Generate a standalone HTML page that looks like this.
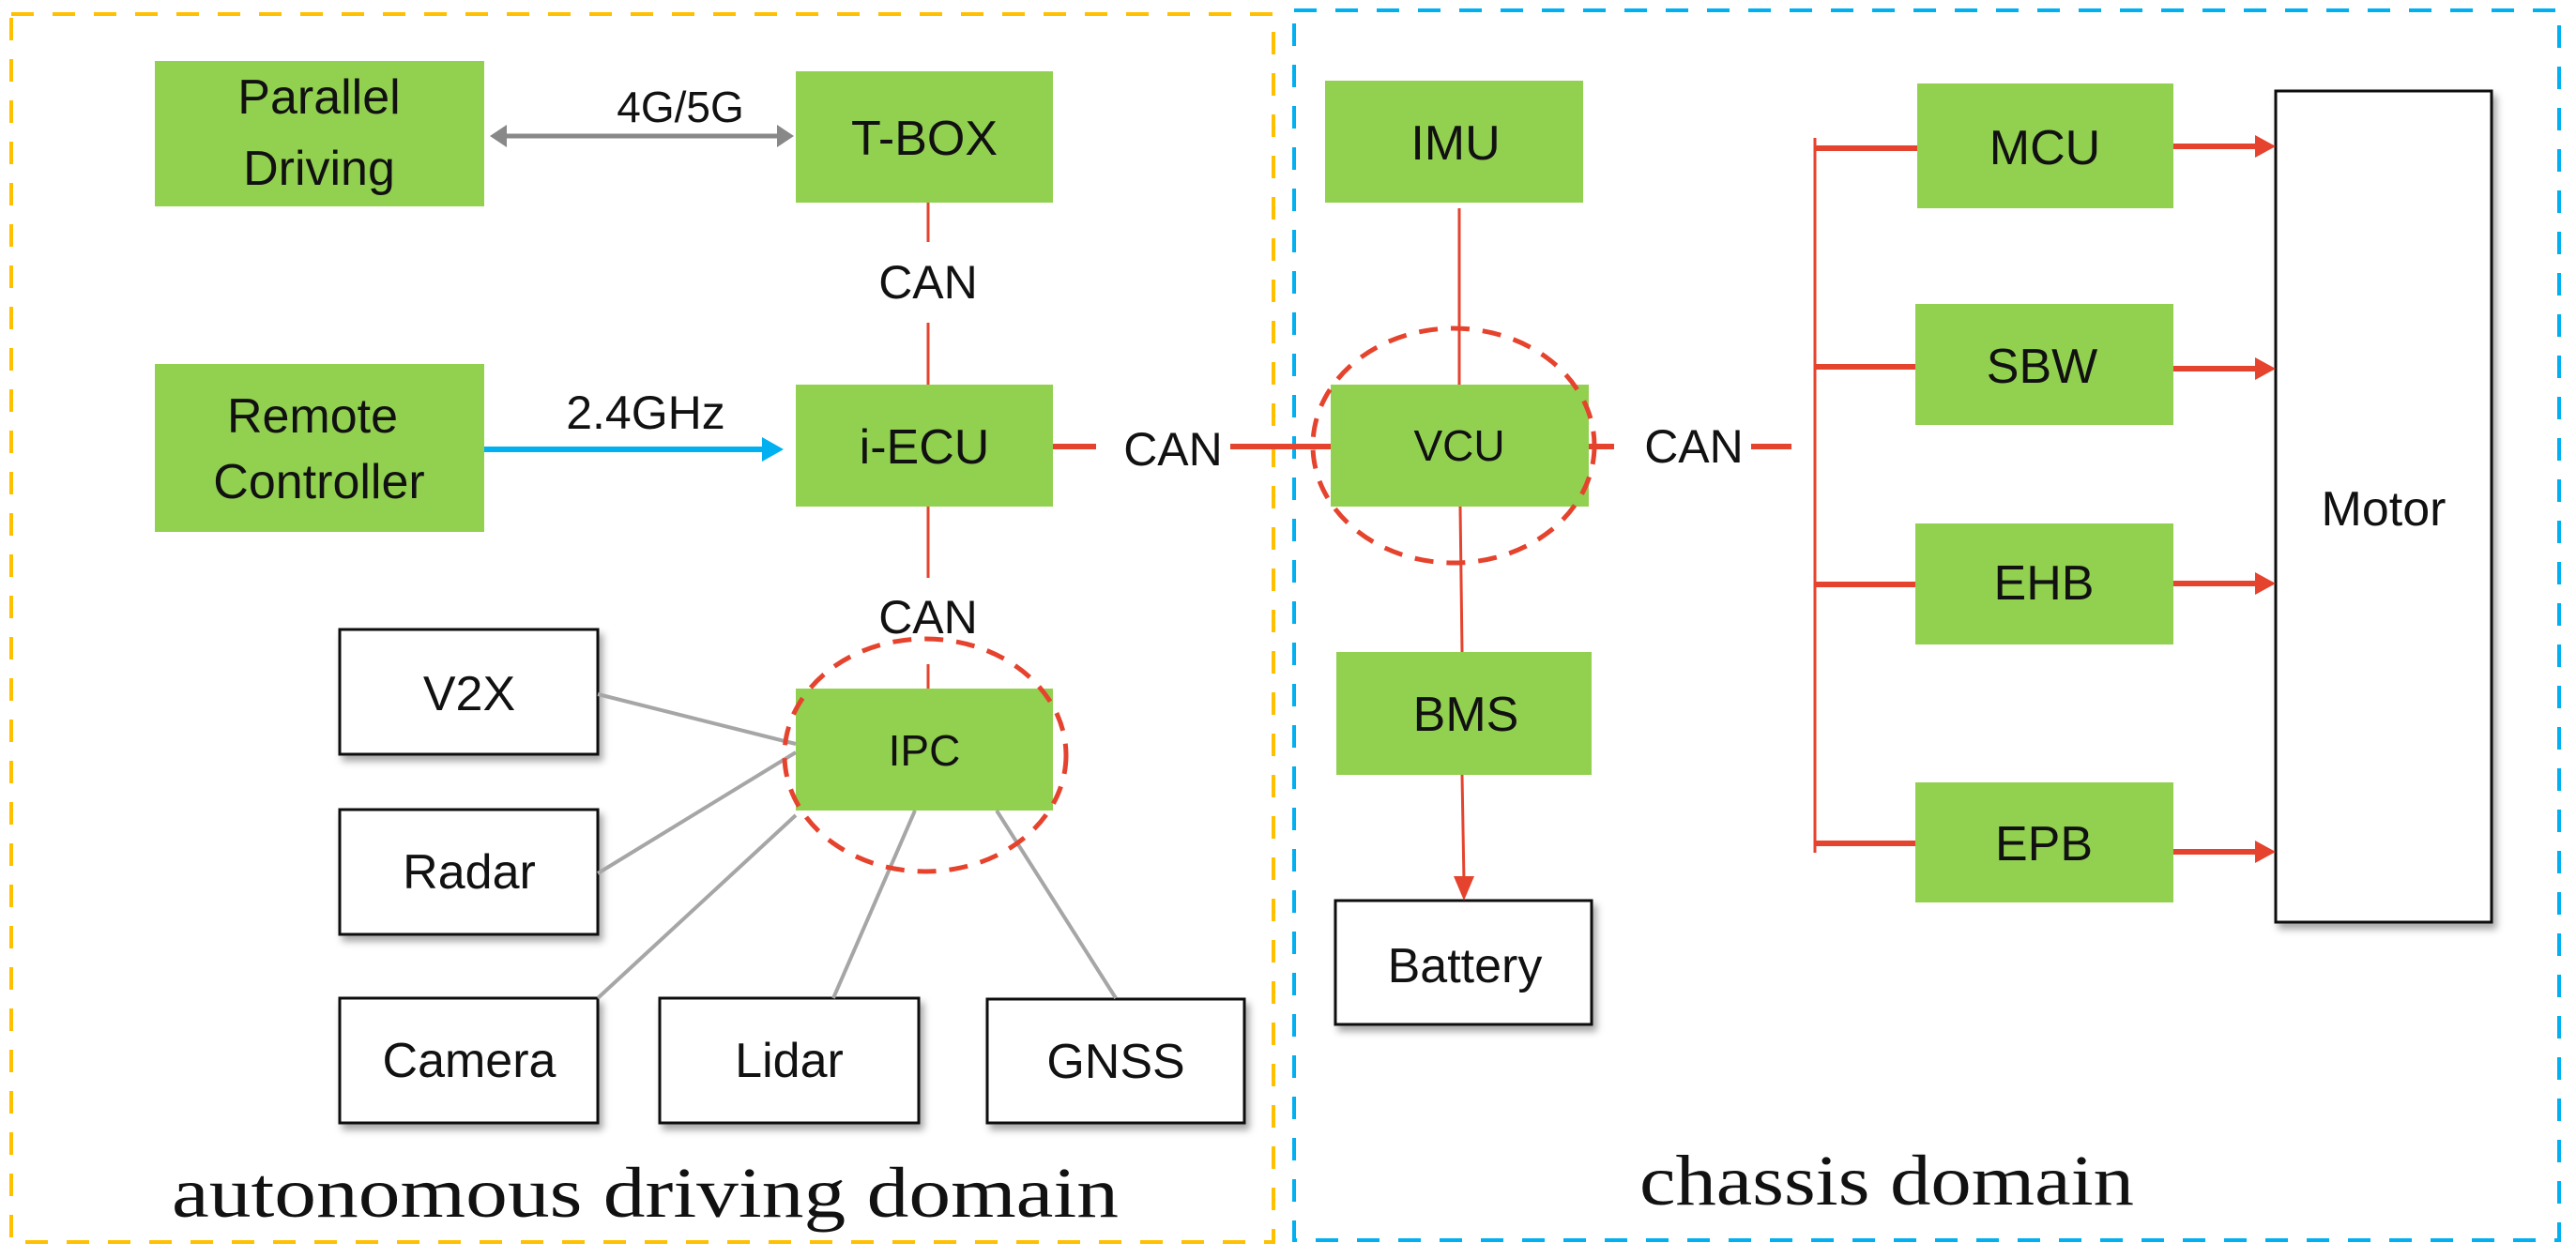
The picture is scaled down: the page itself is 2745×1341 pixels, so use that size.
<!DOCTYPE html>
<html><head><meta charset="utf-8"><style>
html,body{margin:0;padding:0;background:#fff}
svg{display:block}
.t{font-family:"Liberation Sans Narrow","Liberation Sans",sans-serif;fill:#111;text-anchor:middle;dominant-baseline:central}
.s{font-family:"Liberation Serif",serif;fill:#111}
</style></head><body>
<svg width="2745" height="1341" viewBox="0 0 2745 1341" xmlns="http://www.w3.org/2000/svg">
<defs>
<filter id="sh" x="-10%" y="-10%" width="130%" height="130%"><feDropShadow dx="4" dy="6" stdDeviation="4" flood-color="#000" flood-opacity="0.35"/></filter>
<marker id="ar" markerWidth="8" markerHeight="8" refX="7" refY="4" orient="auto" markerUnits="userSpaceOnUse" viewBox="0 0 8 8"><path d="M0,0 L8,4 L0,8 z" fill="#e5432d"/></marker>
</defs>
<!-- domain boxes -->
<rect x="12" y="15" width="1345" height="1309" fill="none" stroke="#ffc000" stroke-width="4" stroke-dasharray="24 20"/>
<rect x="1379" y="11" width="1348" height="1311" fill="none" stroke="#00b0f0" stroke-width="4" stroke-dasharray="24 20"/>

<!-- green boxes -->
<g fill="#92d050">
<rect x="165" y="65" width="351" height="155"/>
<rect x="848" y="76" width="274" height="140"/>
<rect x="165" y="388" width="351" height="179"/>
<rect x="848" y="410" width="274" height="130"/>
<rect x="848" y="734" width="274" height="130"/>
<rect x="1412" y="86" width="275" height="130"/>
<rect x="1418" y="410" width="275" height="130"/>
<rect x="1424" y="695" width="272" height="131"/>
<rect x="2043" y="89" width="273" height="133"/>
<rect x="2041" y="324" width="275" height="129"/>
<rect x="2041" y="558" width="275" height="129"/>
<rect x="2041" y="834" width="275" height="128"/>
</g>

<!-- white boxes -->
<g fill="#fff" stroke="#111" stroke-width="3" filter="url(#sh)">
<rect x="362" y="671" width="275" height="133"/>
<rect x="362" y="863" width="275" height="133"/>
<rect x="362" y="1064" width="275" height="133"/>
<rect x="703" y="1064" width="276" height="133"/>
<rect x="1052" y="1065" width="274" height="132"/>
<rect x="1423" y="960" width="273" height="132"/>
<rect x="2425" y="97" width="230" height="886"/>
</g>

<!-- connectors -->
<g stroke="#888" stroke-width="5" fill="#888">
<line x1="536" y1="145" x2="832" y2="145"/>
<path d="M522,145 L540,133 L540,157 z" stroke="none"/>
<path d="M846,145 L828,133 L828,157 z" stroke="none"/>
</g>
<line x1="516" y1="479" x2="815" y2="479" stroke="#00b0f0" stroke-width="6"/>
<path d="M835,479 L812,466 L812,492 z" fill="#00b0f0"/>

<g stroke="#e5432d" stroke-width="3" fill="none">
<line x1="989" y1="216" x2="989" y2="258"/>
<line x1="989" y1="344" x2="989" y2="410"/>
<line x1="989" y1="540" x2="989" y2="616"/>
<line x1="989" y1="708" x2="989" y2="734"/>
<line x1="1555" y1="222" x2="1555" y2="410"/>
<line x1="1556" y1="540" x2="1558" y2="695"/>
<line x1="1934" y1="147" x2="1934" y2="909"/>
</g>
<g stroke="#e5432d" stroke-width="6" fill="none">
<line x1="1122" y1="476" x2="1168" y2="476"/>
<line x1="1311" y1="476" x2="1418" y2="476"/>
<line x1="1693" y1="476" x2="1720" y2="476"/>
<line x1="1866" y1="476" x2="1909" y2="476"/>
<line x1="1934" y1="158" x2="2043" y2="158"/>
<line x1="1934" y1="391" x2="2041" y2="391"/>
<line x1="1934" y1="623" x2="2041" y2="623"/>
<line x1="1934" y1="899" x2="2041" y2="899"/>
</g>
<g stroke="#e5432d" stroke-width="6">
<line x1="2316" y1="156" x2="2405" y2="156"/>
<line x1="2316" y1="393" x2="2405" y2="393"/>
<line x1="2316" y1="622" x2="2405" y2="622"/>
<line x1="2316" y1="908" x2="2405" y2="908"/>
</g>
<g fill="#e5432d">
<path d="M2425,156 L2403,144 L2403,168 z"/>
<path d="M2425,393 L2403,381 L2403,405 z"/>
<path d="M2425,622 L2403,610 L2403,634 z"/>
<path d="M2425,908 L2403,896 L2403,920 z"/>
</g>
<line x1="1558" y1="826" x2="1560" y2="940" stroke="#e5432d" stroke-width="3"/>
<path d="M1560,960 L1549,934 L1571,934 z" fill="#e5432d"/>

<g stroke="#a6a6a6" stroke-width="4">
<line x1="637" y1="740" x2="848" y2="793"/>
<line x1="637" y1="931" x2="848" y2="802"/>
<line x1="637" y1="1064" x2="848" y2="869"/>
<line x1="888" y1="1064" x2="975" y2="864"/>
<line x1="1189" y1="1064" x2="1062" y2="864"/>
</g>

<!-- dashed ellipses -->
<ellipse cx="986" cy="805" rx="150" ry="124" fill="none" stroke="#e5432d" stroke-width="5" stroke-dasharray="20 14"/>
<ellipse cx="1549" cy="475" rx="150" ry="125" fill="none" stroke="#e5432d" stroke-width="5" stroke-dasharray="20 14"/>

<!-- labels -->
<g class="t" font-size="52">
<text x="340" y="104">Parallel</text>
<text x="340" y="180">Driving</text>
<text x="985" y="148">T-BOX</text>
<text x="333" y="444">Remote</text>
<text x="340" y="514">Controller</text>
<text x="985" y="477">i-ECU</text>
<text x="1551" y="153">IMU</text>
<text x="1562" y="762">BMS</text>
<text x="2179" y="158">MCU</text>
<text x="2176" y="391">SBW</text>
<text x="2178" y="622">EHB</text>
<text x="2178" y="900">EPB</text>
<text x="2540" y="543">Motor</text>
<text x="500" y="740">V2X</text>
<text x="500" y="930">Radar</text>
<text x="500" y="1131">Camera</text>
<text x="841" y="1131">Lidar</text>
<text x="1189" y="1132">GNSS</text>
<text x="1561" y="1030">Battery</text>
</g>
<g class="t" font-size="46">
<text x="725" y="114">4G/5G</text>
<text x="985" y="800">IPC</text>
<text x="1555" y="475">VCU</text>
</g>
<g class="t" font-size="50">
<text x="688" y="440">2.4GHz</text>
<text x="989" y="301">CAN</text>
<text x="1250" y="479">CAN</text>
<text x="989" y="658">CAN</text>
<text x="1805" y="476">CAN</text>
</g>
<text class="s" x="183" y="1297" font-size="76" textLength="1009" lengthAdjust="spacingAndGlyphs">autonomous  driving domain</text>
<text class="s" x="1747" y="1284" font-size="76" textLength="527" lengthAdjust="spacingAndGlyphs">chassis domain</text>
</svg>
</body></html>
